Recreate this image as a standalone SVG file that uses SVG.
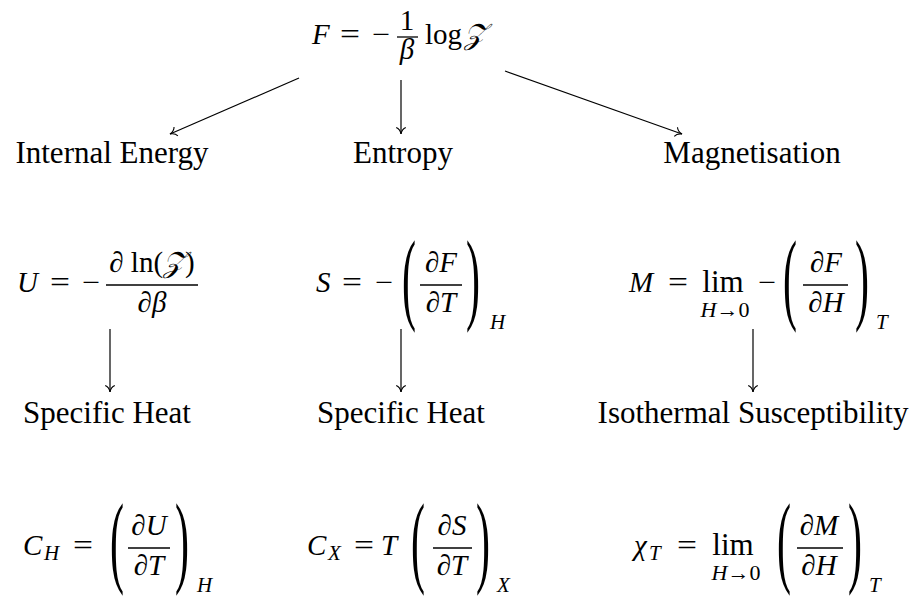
<svg xmlns="http://www.w3.org/2000/svg" width="911" height="598" viewBox="0 0 911 598">
<style>
text{font-family:"Liberation Serif","DejaVu Serif",serif;fill:#000}
.lbl{font-size:31px;text-anchor:middle}
.mi{font-size:29px;font-style:italic}
.mr{font-size:29px}
.c{text-anchor:middle}
.par{font-size:42px;text-anchor:middle}
.sub{font-size:21px;font-style:italic}
.lim{font-size:22px;text-anchor:middle}
.limw{font-size:31px;text-anchor:middle}
.bar{stroke:#000;stroke-width:1.3}
.conn line{stroke:#000;stroke-width:1.2;fill:none;marker-end:url(#to)}
</style>
<defs>
<marker id="to" viewBox="-8 -6 10 12" refX="0" refY="0" markerWidth="10" markerHeight="12" markerUnits="userSpaceOnUse" orient="auto">
<path d="M-6.5,-4.8 C-5.2,-1.6 -1.6,-0.3 0,0 C-1.6,0.3 -5.2,1.6 -6.5,4.8" fill="none" stroke="#000" stroke-width="1.1"/>
</marker>
</defs>
<rect width="911" height="598" fill="#fff"/>

<g id="free-energy">
<text class="mi" x="312" y="44">F</text>
<text class="mr" x="340" y="44" textLength="20" lengthAdjust="spacingAndGlyphs">=</text>
<text class="mr" x="372" y="44" textLength="18" lengthAdjust="spacingAndGlyphs">−</text>
<text class="mr c" x="407" y="30">1</text>
<line class="bar" x1="397" y1="37" x2="418" y2="37"/>
<text class="mi c" x="407" y="59">β</text>
<text class="mr" x="425" y="44">log</text>
<text class="mi" x="464" y="44">𝒵</text>
</g>

<g id="internal-energy"><text class="lbl" x="112" y="163">Internal Energy</text></g>
<g id="entropy"><text class="lbl" x="403" y="163">Entropy</text></g>
<g id="magnetisation"><text class="lbl" x="752" y="163">Magnetisation</text></g>

<g id="u-formula">
<text class="mi" x="17" y="292">U</text>
<text class="mr" x="50" y="292" textLength="20" lengthAdjust="spacingAndGlyphs">=</text>
<text class="mr" x="82" y="292" textLength="18" lengthAdjust="spacingAndGlyphs">−</text>
<text class="mr c" x="152" y="272">∂ ln(<tspan font-style="italic">𝒵</tspan>)</text>
<line class="bar" x1="106" y1="285" x2="198" y2="285"/>
<text class="mr c" x="152" y="312">∂<tspan font-style="italic">β</tspan></text>
</g>

<g id="s-formula">
<text class="mi" x="316" y="292">S</text>
<text class="mr" x="342" y="292" textLength="20" lengthAdjust="spacingAndGlyphs">=</text>
<text class="mr" x="375" y="292" textLength="18" lengthAdjust="spacingAndGlyphs">−</text>
<text class="par" transform="translate(409,310.5) scale(1,2.43)">(</text>
<text class="mr c" x="441" y="272">∂<tspan font-style="italic">F</tspan></text>
<line class="bar" x1="420" y1="285" x2="462" y2="285"/>
<text class="mr c" x="441" y="312">∂<tspan font-style="italic">T</tspan></text>
<text class="par" transform="translate(473,310.5) scale(1,2.43)">)</text>
<text class="sub" x="490" y="329">H</text>
</g>

<g id="m-formula">
<text class="mi" x="629" y="292">M</text>
<text class="mr" x="668" y="292" textLength="20" lengthAdjust="spacingAndGlyphs">=</text>
<text class="limw" x="723" y="292">lim</text>
<text class="lim" x="725" y="317"><tspan font-style="italic">H</tspan>→0</text>
<text class="mr" x="758" y="292" textLength="18" lengthAdjust="spacingAndGlyphs">−</text>
<text class="par" transform="translate(790,310.5) scale(1,2.43)">(</text>
<text class="mr c" x="826" y="272">∂<tspan font-style="italic">F</tspan></text>
<line class="bar" x1="803" y1="285" x2="848" y2="285"/>
<text class="mr c" x="826" y="312">∂<tspan font-style="italic">H</tspan></text>
<text class="par" transform="translate(862,310.5) scale(1,2.43)">)</text>
<text class="sub" x="876" y="329">T</text>
</g>

<g id="specific-heat-1"><text class="lbl" x="107" y="423">Specific Heat</text></g>
<g id="specific-heat-2"><text class="lbl" x="401" y="423">Specific Heat</text></g>
<g id="susceptibility"><text class="lbl" x="753" y="423">Isothermal Susceptibility</text></g>

<g id="ch-formula">
<text class="mi" x="23" y="555">C</text>
<text class="sub" x="44" y="560">H</text>
<text class="mr" x="73" y="555" textLength="20" lengthAdjust="spacingAndGlyphs">=</text>
<text class="par" transform="translate(117,573.5) scale(1,2.43)">(</text>
<text class="mr c" x="149" y="535">∂<tspan font-style="italic">U</tspan></text>
<line class="bar" x1="128" y1="548" x2="170" y2="548"/>
<text class="mr c" x="149" y="575">∂<tspan font-style="italic">T</tspan></text>
<text class="par" transform="translate(182,573.5) scale(1,2.43)">)</text>
<text class="sub" x="197" y="592">H</text>
</g>

<g id="cx-formula">
<text class="mi" x="307" y="555">C</text>
<text class="sub" x="328" y="560">X</text>
<text class="mr" x="354" y="555" textLength="20" lengthAdjust="spacingAndGlyphs">=</text>
<text class="mi" x="381" y="555">T</text>
<text class="par" transform="translate(418,573.5) scale(1,2.43)">(</text>
<text class="mr c" x="452" y="535">∂<tspan font-style="italic">S</tspan></text>
<line class="bar" x1="433" y1="548" x2="472" y2="548"/>
<text class="mr c" x="452" y="575">∂<tspan font-style="italic">T</tspan></text>
<text class="par" transform="translate(483,573.5) scale(1,2.43)">)</text>
<text class="sub" x="497" y="592">X</text>
</g>

<g id="chi-formula">
<text class="mi" x="634" y="555" font-size="31">χ</text>
<text class="sub" x="649" y="560">T</text>
<text class="mr" x="677" y="555" textLength="20" lengthAdjust="spacingAndGlyphs">=</text>
<text class="limw" x="733" y="555">lim</text>
<text class="lim" x="736" y="580"><tspan font-style="italic">H</tspan>→0</text>
<text class="par" transform="translate(784,573.5) scale(1,2.43)">(</text>
<text class="mr c" x="819" y="535">∂<tspan font-style="italic">M</tspan></text>
<line class="bar" x1="797" y1="548" x2="843" y2="548"/>
<text class="mr c" x="819" y="575">∂<tspan font-style="italic">H</tspan></text>
<text class="par" transform="translate(855,573.5) scale(1,2.43)">)</text>
<text class="sub" x="869" y="592">T</text>
</g>

<g class="conn" id="connectors">
<line x1="299" y1="78" x2="170" y2="134"/>
<line x1="401" y1="80" x2="401" y2="134"/>
<line x1="505" y1="71" x2="682" y2="134"/>
<line x1="110" y1="329" x2="110" y2="392"/>
<line x1="401" y1="329" x2="401" y2="392"/>
<line x1="753" y1="329" x2="753" y2="392"/>
</g>
</svg>
